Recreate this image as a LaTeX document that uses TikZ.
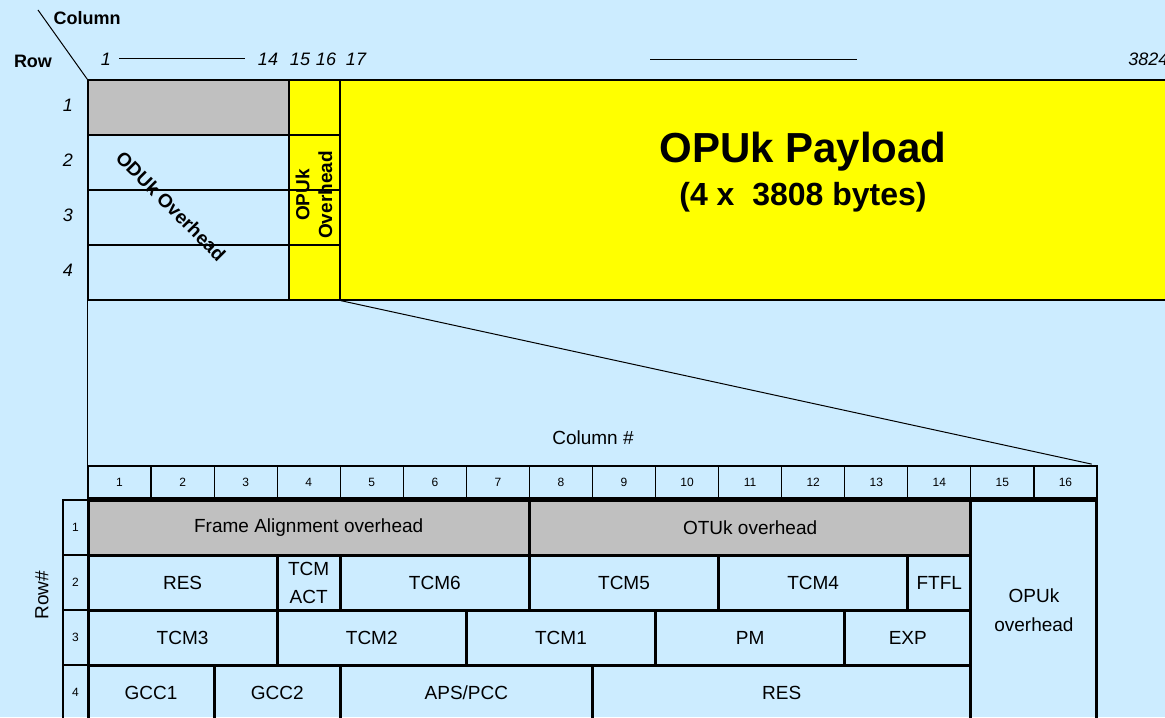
\documentclass[tikz,border=0pt]{standalone}
\usepackage{fontspec}
\setmainfont{Liberation Sans}
\usepackage{tikz}
\usetikzlibrary{positioning, calc}

\definecolor{skybg}{HTML}{CCECFF}
\definecolor{ohgray}{HTML}{C0C0C0}
\definecolor{plyellow}{HTML}{FFFF00}

\newcommand{\cw}{63.06}

\begin{document}
\begin{tikzpicture}[
  x=0.5pt, y=-0.5pt,
  frame/.style={rectangle, draw=black, line width=0.6pt, inner sep=0pt, minimum height=27.5pt},
  cell/.style={rectangle, draw=black, line width=1.5pt, inner sep=0pt, minimum height=27.5pt, align=center, font=\fontsize{9.5}{11.4}\selectfont},
  span/.style={minimum width=#1*31.53pt},
  hdrcell/.style={rectangle, draw=black, line width=0.6pt, inner sep=0pt, minimum width=31.53pt, minimum height=16pt, font=\fontsize{6}{7}\selectfont},
  rowcell/.style={rectangle, draw=black, line width=0.6pt, inner sep=0pt, minimum width=12.5pt, minimum height=27.5pt, font=\fontsize{6}{7}\selectfont},
  idx/.style={inner sep=1pt, font=\fontsize{9}{11}\selectfont\itshape},
  axisname/.style={inner sep=1pt, font=\fontsize{9}{11}\selectfont\bfseries},
  boldtxt/.style={inner sep=1pt, align=center, font=\fontsize{9.5}{11.4}\selectfont\bfseries},
  plain/.style={inner sep=1pt, font=\fontsize{9.5}{11.4}\selectfont},
  thinline/.style={draw=black, line width=0.5pt}
]
  \fill[skybg] (0,0) rectangle (1165,717);
  \useasboundingbox (0,0) rectangle (1165,717);
  \clip (0,0) rectangle (1165,717);

  % Payload and overhead frame
  \node[frame, fill=plyellow, minimum width=420pt, minimum height=110pt] (pl) at (760,190) {};
  \node[frame, fill=ohgray, minimum width=100.5pt] (od1) at (188.5,107.5) {};
  \node[frame, minimum width=100.5pt] (od2) at (188.5,162.5) {};
  \node[frame, minimum width=100.5pt] (od3) at (188.5,217.5) {};
  \node[frame, minimum width=100.5pt] (od4) at (188.5,272.5) {};
  \foreach \r/\y in {1/107.5, 2/162.5, 3/217.5, 4/272.5}
    \node[frame, fill=plyellow, minimum width=25.5pt] (op\r) at (314.5,\y) {};

  \node[font=\fontsize{21}{25}\selectfont\bfseries] (pltitle) at (803,152) {OPUk Payload};
  \node[font=\fontsize{16}{19}\selectfont\bfseries] (plsize) at (803,197) {(4 x\ \ 3808 bytes)};
  \node[boldtxt, rotate=-45] (odtxt) at (171,206) {ODUk Overhead};
  \node[boldtxt, rotate=90] (optxt) at (314,195) {OPUk\\Overhead};

  % Row / column captions
  \node[axisname] (colname) at (87,18) {Column};
  \node[axisname] (rowname) at (33,61) {Row};
  \coordinate (diag) at (38,10);
  \draw[thinline] (diag) -- (od1.north west);

  \node[idx] (c1) at (106,59) {1};
  \node[idx] (c14) at (268,59) {14};
  \node[idx] (c15) at (300,59) {15};
  \node[idx] (c16) at (326,59) {16};
  \node[idx] (c17) at (356,59) {17};
  \node[idx, anchor=west] (c3824) at (1126,59) {3824};
  \draw[thinline, shorten <=3pt, shorten >=5.5pt] (c1) -- (c14);
  \coordinate (gapl) at (650,60);
  \coordinate (gapr) at (857,60);
  \draw[thinline] (gapl) -- (gapr);

  \foreach \r/\y in {1/105, 2/160, 3/215, 4/270}
    \node[idx] (r\r) at (68,\y) {\r};

  % Column header and row labels of the detail
  \foreach \i in {1,...,16}
    \node[hdrcell] (h\i) at ({88+\cw*(\i-0.5)},482) {\i};
  \foreach \r/\y in {1/527.5, 2/582.5, 3/637.5, 4/692.5}
    \node[rowcell] (rl\r) at (75.5,\y) {\r};

  \node[plain] (colhash) at (593,438) {Column \#};
  \node[plain, rotate=90] (rowhash) at (42,595) {Row\#};

  % Zoom lines
  \draw[thinline] (od4.south west) -- (h1.north west);
  \draw[thinline, shorten >=3pt] (op4.south east) -- (h16.north east);

  % Row 1
  \node[cell, span=7, fill=ohgray] (fa) at ({88+\cw*3.5},527.5) {Frame Alignment overhead};
  \node[cell, span=7, fill=ohgray] (otu) at ({88+\cw*10.5},527.5) {OTUk overhead};
  \node[cell, span=2, minimum height=110pt] (opuoh) at ({88+\cw*15},610) {OPUk\\[3pt]overhead};

  % Row 2
  \node[cell, span=3] (res1) at ({88+\cw*1.5},582.5) {RES};
  \node[cell, span=1] (tcmact) at ({88+\cw*3.5},582.5) {TCM\\[2.6pt]ACT};
  \node[cell, span=3] (tcm6) at ({88+\cw*5.5},582.5) {TCM6};
  \node[cell, span=3] (tcm5) at ({88+\cw*8.5},582.5) {TCM5};
  \node[cell, span=3] (tcm4) at ({88+\cw*11.5},582.5) {TCM4};
  \node[cell, span=1] (ftfl) at ({88+\cw*13.5},582.5) {FTFL};

  % Row 3
  \node[cell, span=3] (tcm3) at ({88+\cw*1.5},637.5) {TCM3};
  \node[cell, span=3] (tcm2) at ({88+\cw*4.5},637.5) {TCM2};
  \node[cell, span=3] (tcm1) at ({88+\cw*7.5},637.5) {TCM1};
  \node[cell, span=3] (pm) at ({88+\cw*10.5},637.5) {PM};
  \node[cell, span=2] (exp) at ({88+\cw*13},637.5) {EXP};

  % Row 4
  \node[cell, span=2] (gcc1) at ({88+\cw*1},692.5) {GCC1};
  \node[cell, span=2] (gcc2) at ({88+\cw*3},692.5) {GCC2};
  \node[cell, span=4] (aps) at ({88+\cw*6},692.5) {APS/PCC};
  \node[cell, span=6] (res2) at ({88+\cw*11},692.5) {RES};
\end{tikzpicture}
\end{document}
